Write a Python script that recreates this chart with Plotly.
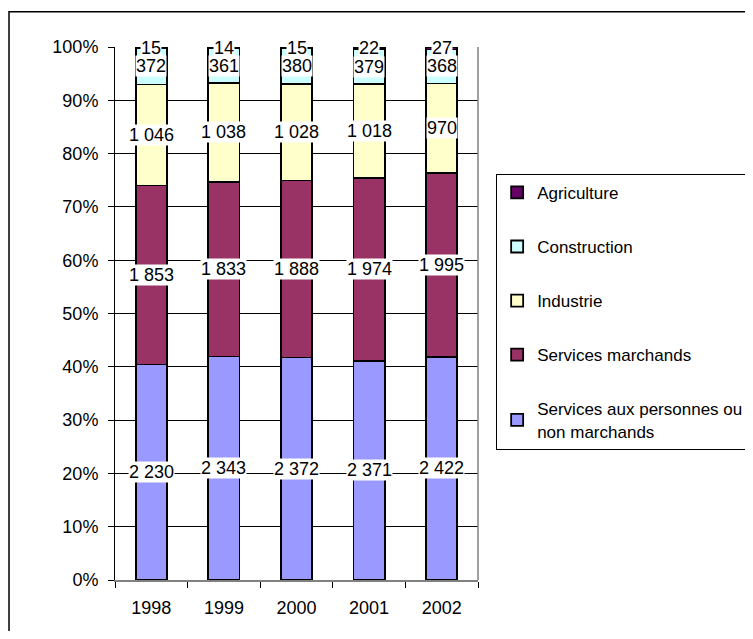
import plotly.graph_objects as go

annees = ["1998", "1999", "2000", "2001", "2002"]

services_personnes = [2230, 2343, 2372, 2371, 2422]
services_marchands = [1853, 1833, 1888, 1974, 1995]
industrie = [1046, 1038, 1028, 1018, 970]
construction = [372, 361, 380, 379, 368]
agriculture = [15, 14, 15, 22, 27]

series = [
    ("Services aux personnes ou<br>non marchands", services_personnes, "#9999FF"),
    ("Services marchands", services_marchands, "#993366"),
    ("Industrie", industrie, "#FFFFCC"),
    ("Construction", construction, "#CCFFFF"),
    ("Agriculture", agriculture, "#660066"),
]

FONT = "Arial, Liberation Sans, sans-serif"


def fmt(v):
    # séparateur de milliers à la française
    return f"{v:,}".replace(",", " ")


totals = [sum(s[1][i] for s in series) for i in range(len(annees))]

fig = go.Figure()
for i, (name, vals, color) in enumerate(series):
    fig.add_trace(go.Bar(
        x=annees,
        y=[v / totals[j] * 100 for j, v in enumerate(vals)],
        name=name,
        legendgroup=f"g{i}",
        legendrank=10 - i,
        marker=dict(color=color, line=dict(color="black", width=1.8)),
    ))

# étiquettes au milieu de chaque segment (x = index de la catégorie)
annotations = []
for j, year in enumerate(annees):
    cum = 0
    for name, vals, color in series:
        mid = (cum + vals[j] / 2) / totals[j] * 100
        cum += vals[j]
        annotations.append(dict(
            x=j, y=mid, xref="x", yref="y",
            text=fmt(vals[j]), showarrow=False,
            font=dict(family=FONT, size=18, color="black"),
            bgcolor="white", borderpad=0,
        ))

fig.update_layout(
    barmode="stack",
    bargap=0.57,
    width=737,
    height=623,
    paper_bgcolor="white",
    plot_bgcolor="white",
    font=dict(family=FONT, size=18, color="black"),
    margin=dict(l=107, r=267, t=39, b=51, autoexpand=False),
    annotations=annotations,
    legend=dict(
        x=1.05, y=0.762, xanchor="left", yanchor="top",
        traceorder="grouped",
        bordercolor="black", borderwidth=1,
        tracegroupgap=29,
        font=dict(family=FONT, size=17),
        itemclick=False,
    ),
    shapes=[
        # cadre extérieur du graphique
        dict(type="rect", xref="paper", yref="paper",
             x0=-0.292, x1=1.8, y0=-0.2, y1=1.066,
             line=dict(color="black", width=1.5), layer="below"),
        # bord droit de la zone de tracé
        dict(type="line", xref="paper", yref="paper",
             x0=1, x1=1, y0=0, y1=1,
             line=dict(color="#808080", width=1.5)),
    ],
)

fig.update_yaxes(
    range=[0, 100],
    dtick=10,
    ticksuffix="%",
    showgrid=True, gridcolor="black", gridwidth=1,
    showline=True, linecolor="black", linewidth=1,
    ticks="outside", ticklen=6, tickcolor="black",
    ticklabelstandoff=6,
    zeroline=False,
)
fig.update_xaxes(
    type="category",
    range=[-0.5, len(annees) - 0.5],
    showgrid=False,
    showline=True, linecolor="#808080", linewidth=1.5,
    ticks="outside", ticklen=6, tickcolor="black",
    tickson="boundaries",
    ticklabelstandoff=11,
)

fig.write_html("out.html")
